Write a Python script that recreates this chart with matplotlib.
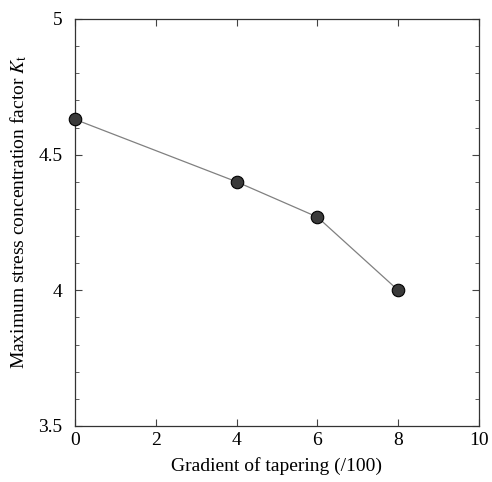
import numpy as np
import matplotlib
matplotlib.use('Agg')
import matplotlib.pyplot as plt
from matplotlib.ticker import MultipleLocator

plt.rcParams['font.family'] = ['Liberation Serif', 'DejaVu Serif']
plt.rcParams['mathtext.fontset'] = 'stix'

# data
gradient = [0, 4, 6, 8]
kt = [4.63, 4.40, 4.27, 4.00]
xticks = [0, 2, 4, 6, 8, 10]
yticks = [3.5, 4, 4.5, 5]
ytick_labels = ['3.5', '4', '4.5', '5']

fig = plt.figure(figsize=(4.92, 4.82), dpi=100)
ax = fig.add_axes([0.1524, 0.1162, 0.8212, 0.8444])

ax.plot(gradient, kt, '-', color='#808080', lw=0.9, zorder=2)
ax.plot(gradient, kt, 'o', ms=9, mfc='#3a3a3a', mec='black', mew=0.8,
        zorder=3, clip_on=False)

ax.set_xlim(0, 10)
ax.set_ylim(3.5, 5)
ax.set_xticks(xticks)
ax.set_xticklabels([str(t) for t in xticks])
ax.set_yticks(yticks)
ax.set_yticklabels(ytick_labels)
ax.yaxis.set_minor_locator(MultipleLocator(0.1))

ax.tick_params(which='both', direction='in', top=True, right=True,
               labelsize=14, color='#444444')
ax.tick_params(which='major', length=5, width=0.8)
ax.tick_params(axis='x', which='major', pad=4)
ax.tick_params(axis='y', which='major', pad=9)
ax.tick_params(which='minor', length=3, width=0.6)
for s in ax.spines.values():
    s.set_linewidth(0.9)
    s.set_color('#333333')

ax.set_xlabel('Gradient of tapering (/100)', fontsize=14, labelpad=6)
ax.set_ylabel(r'Maximum stress concentration factor $K_\mathrm{t}$',
              fontsize=14, labelpad=7)
ax.yaxis.label.set_y(0.527)

fig.savefig('out.png', dpi=100)
